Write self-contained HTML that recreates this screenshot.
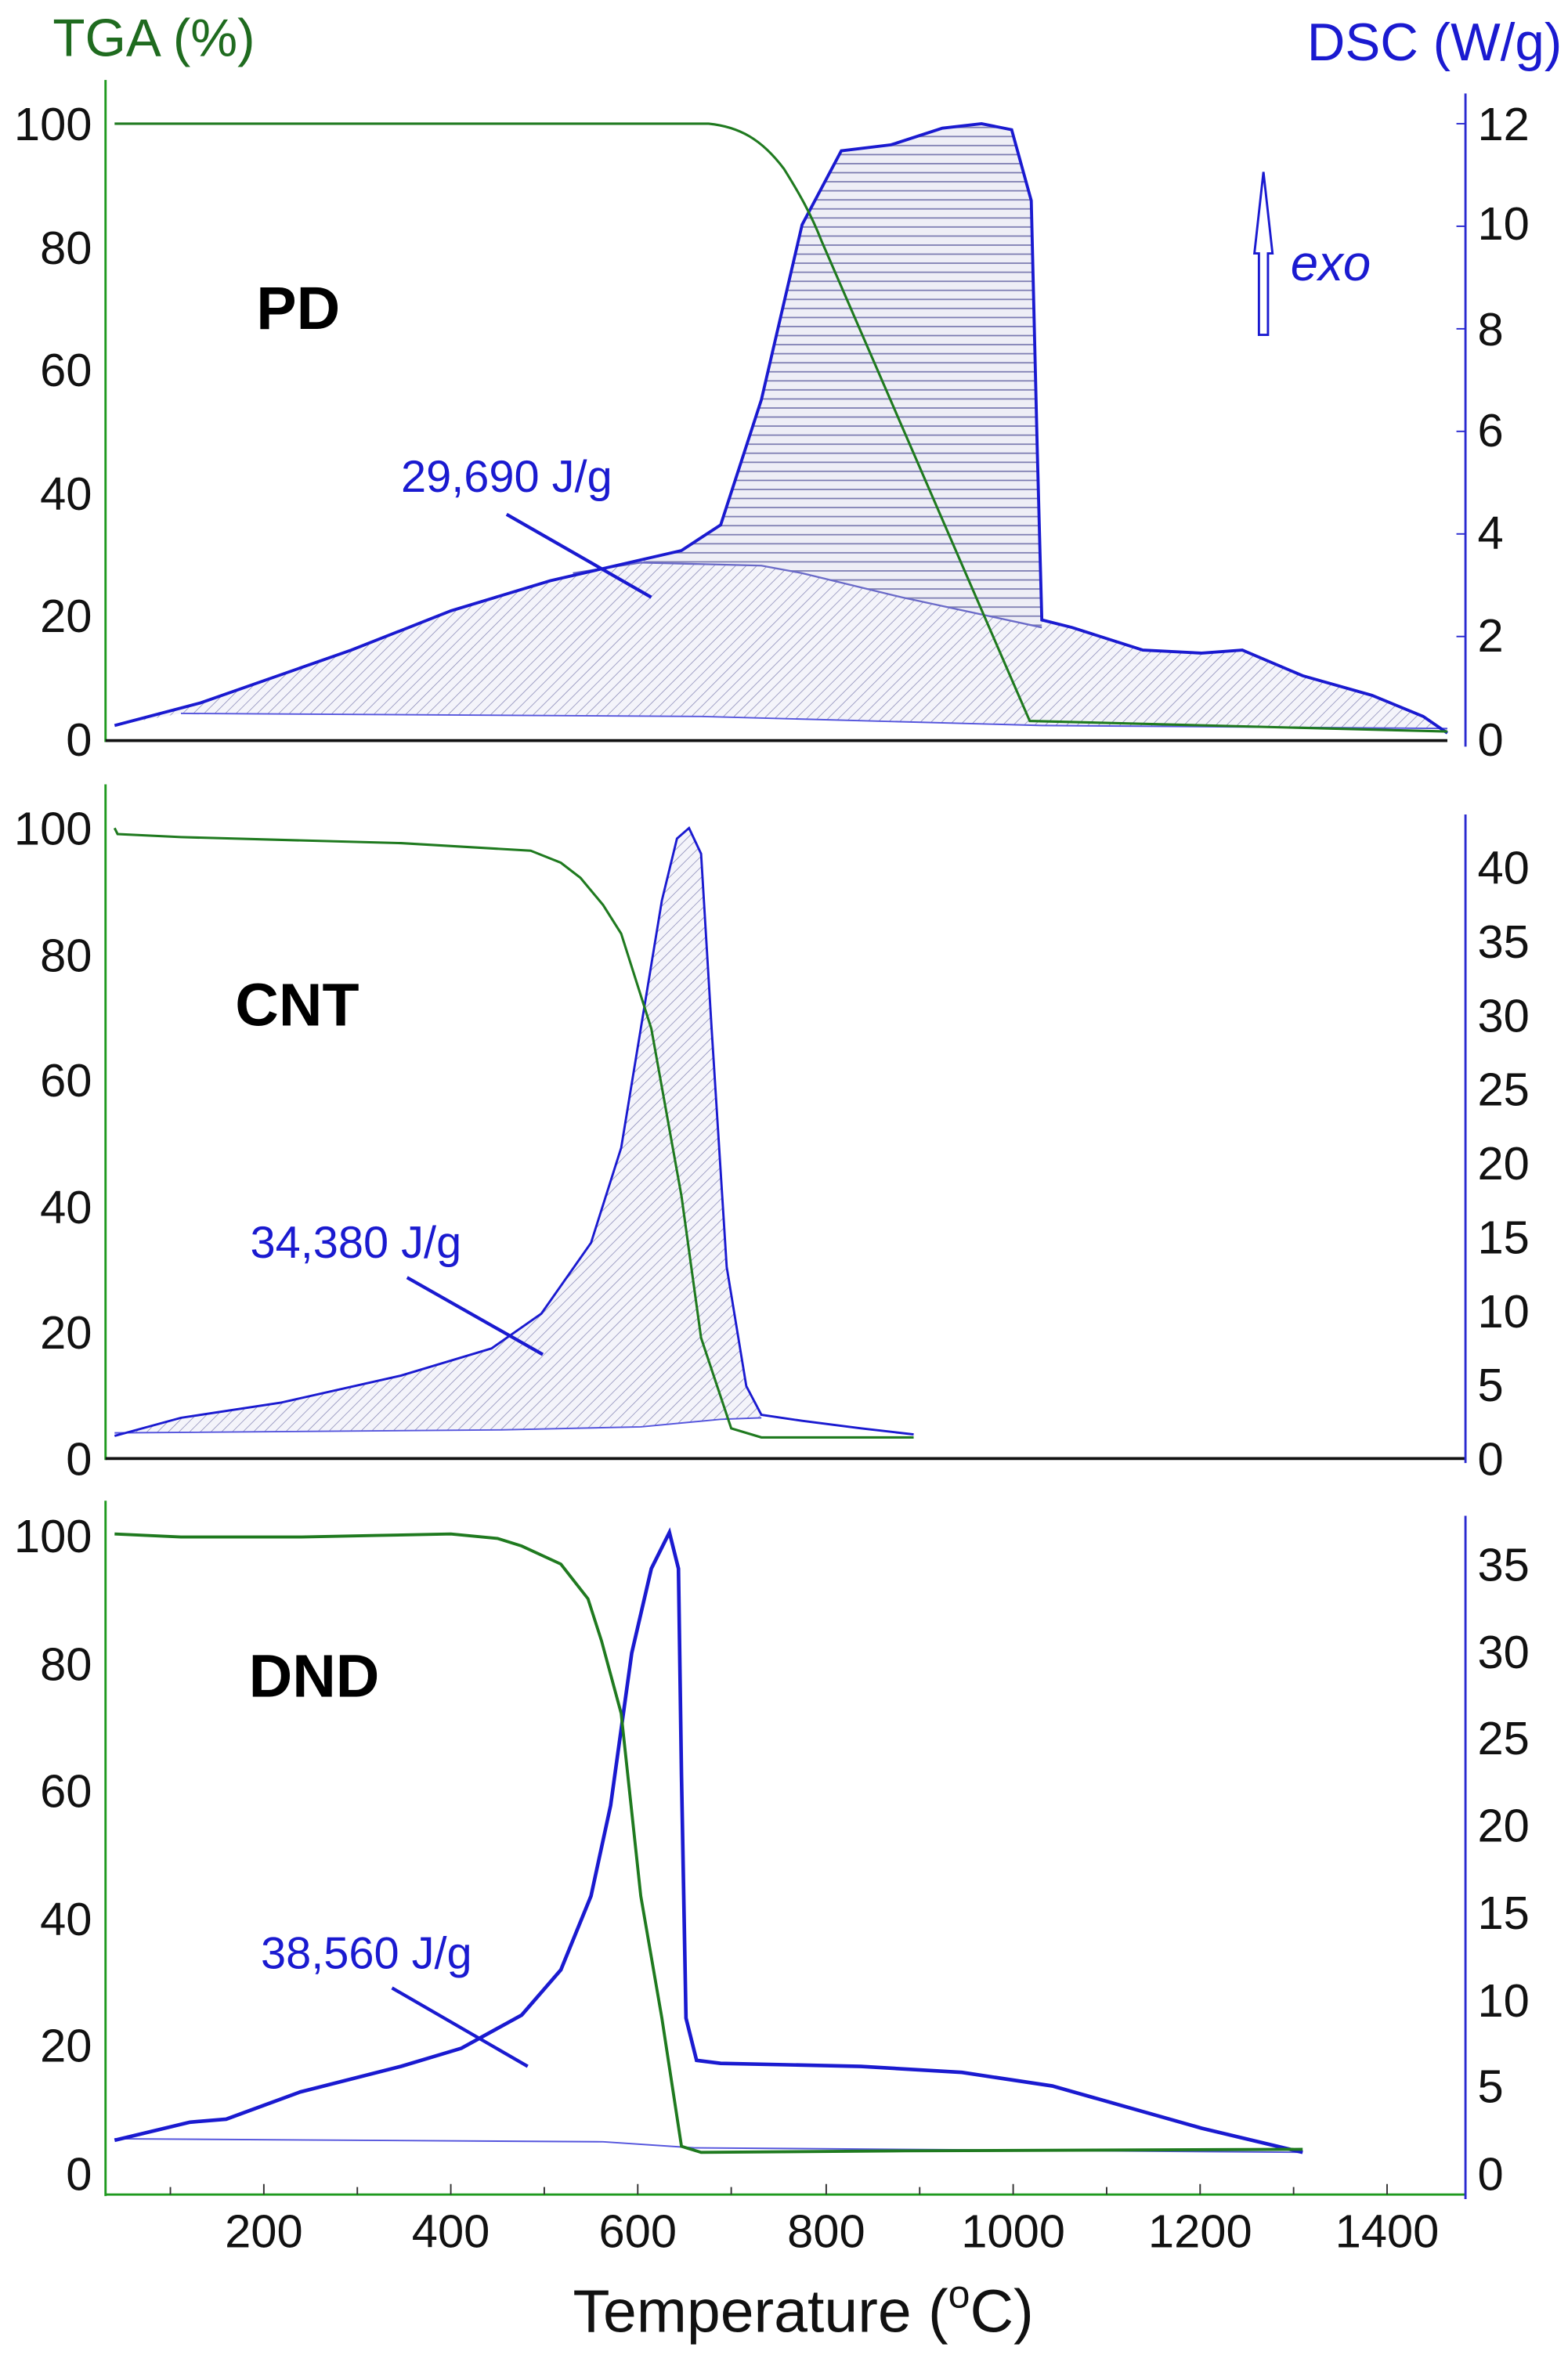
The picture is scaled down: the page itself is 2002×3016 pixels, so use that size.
<!DOCTYPE html>
<html><head><meta charset="utf-8"><style>html,body{margin:0;padding:0;background:#fff}svg{display:block}</style></head>
<body>
<svg width="2002" height="3016" viewBox="0 0 1040 1566" preserveAspectRatio="none" xmlns="http://www.w3.org/2000/svg" font-family="Liberation Sans, Arial, sans-serif">
<defs>
<pattern id="diag" patternUnits="userSpaceOnUse" width="5" height="5" patternTransform="rotate(45)">
<rect width="5" height="5" fill="#f4f4fa"/><line x1="0" y1="0" x2="0" y2="5" stroke="#8a8ab8" stroke-width="0.8"/></pattern>
<pattern id="horiz" patternUnits="userSpaceOnUse" width="6" height="6">
<rect width="6" height="6" fill="#eeeef6"/><line x1="0" y1="0.5" x2="6" y2="0.5" stroke="#7a7ab0" stroke-width="0.9"/></pattern>
</defs>

<text x="35" y="37" font-size="35" fill="#1f6b1f">TGA (%)</text>
<text x="1036" y="40" font-size="35" fill="#1a1ad0" text-anchor="end">DSC (W/g)</text>

<!-- ===== Panel 1 PD ===== -->
<g>
<path d="M76,481 L133,466 L233,431 L299,405 L365,385 L452,365 L478,348 L505,265 L532,149 L558,100 L591,96 L625,85 L651,82 L671,86 L684,133 L688,299 L691,411 L711,416 L758,431 L797,433 L824,431 L864,448 L910,461 L944,475 L960,486 L960,483 L691,481 L465,475 L120,473 Z" fill="url(#diag)"/>
<path d="M452,365 L478,348 L505,265 L532,149 L558,100 L591,96 L625,85 L651,82 L671,86 L684,133 L688,299 L691,411 L691,416 L598,396 L532,380 L505,375 L425,373 Z" fill="url(#horiz)"/>
<polyline points="120,473 465,475 691,481 960,483" fill="none" stroke="#5555dd" stroke-width="1"/>
<polyline points="380,380 425,373 505,375 532,380 598,396 691,416" fill="none" stroke="#6a6ac8" stroke-width="1.2"/>
<polyline points="76,481 133,466 233,431 299,405 365,385 452,365 478,348 505,265 532,149 558,100 591,96 625,85 651,82 671,86 684,133 688,299 691,411 711,416 758,431 797,433 824,431 864,448 910,461 944,475 960,486" fill="none" stroke="#1a1ad0" stroke-width="2"/>
<path d="M76,82 L470,82 C490,84 505,92 520,112 C530,128 538,142 545,160 L683,478 L960,485" fill="none" stroke="#1f7a1f" stroke-width="1.6"/>
<line x1="70" y1="53" x2="70" y2="492" stroke="#1f9a1f" stroke-width="1.5"/>
<line x1="70" y1="491" x2="960" y2="491" stroke="#111" stroke-width="2"/>
<line x1="972" y1="62" x2="972" y2="495" stroke="#2a2ad0" stroke-width="1.5"/>
<g font-size="31" fill="#111" text-anchor="end">
<text x="61" y="93">100</text><text x="61" y="175">80</text><text x="61" y="256">60</text><text x="61" y="338">40</text><text x="61" y="419">20</text><text x="61" y="501">0</text></g>
<g font-size="31" fill="#111">
<text x="980" y="93">12</text><text x="980" y="159">10</text><text x="980" y="229">8</text><text x="980" y="296">6</text><text x="980" y="364">4</text><text x="980" y="432">2</text><text x="980" y="501">0</text></g>
<g stroke="#2a2ad0" stroke-width="1"><line x1="972" y1="82" x2="966" y2="82"/><line x1="972" y1="150" x2="966" y2="150"/><line x1="972" y1="218" x2="966" y2="218"/><line x1="972" y1="286" x2="966" y2="286"/><line x1="972" y1="354" x2="966" y2="354"/><line x1="972" y1="422" x2="966" y2="422"/></g>
<text x="170" y="218" font-size="40" font-weight="bold" fill="#000">PD</text>
<text x="266" y="326" font-size="30" fill="#1a1ad0">29,690 J/g</text>
<line x1="336" y1="341" x2="432" y2="396" stroke="#1a1ad0" stroke-width="2.2"/>
<path d="M838,114 L844,168 L841,168 L841,222 L835,222 L835,168 L832,168 Z" fill="#fff" stroke="#1a1ad0" stroke-width="1.5"/>
<text x="856" y="186" font-size="33" font-style="italic" fill="#1a1ad0">exo</text>
</g>

<!-- ===== Panel 2 CNT ===== -->
<g>
<path d="M76,952 L120,940 L186,930 L266,912 L326,894 L359,871 L392,824 L412,761 L425,682 L439,597 L449,556 L457,549 L465,566 L472,682 L482,840 L495,919 L505,940 L478,941 L425,946 L332,948 L76,950 Z" fill="url(#diag)"/>
<polyline points="76,950 332,948 425,946 478,941 505,940" fill="none" stroke="#5555dd" stroke-width="1"/>
<polyline points="76,952 120,940 186,930 266,912 326,894 359,871 392,824 412,761 425,682 439,597 449,556 457,549 465,566 472,682 482,840 495,919 505,938 532,942 571,947 606,951" fill="none" stroke="#1a1ad0" stroke-width="1.5"/>
<polyline points="76,549 78,553 120,555 266,559 352,564 372,572 385,582 400,600 412,619 432,682 452,793 465,887 485,947 505,953 606,953" fill="none" stroke="#1f7a1f" stroke-width="1.6"/>
<line x1="70" y1="520" x2="70" y2="968" stroke="#1f9a1f" stroke-width="1.5"/>
<line x1="70" y1="967" x2="972" y2="967" stroke="#111" stroke-width="2"/>
<line x1="972" y1="540" x2="972" y2="970" stroke="#2a2ad0" stroke-width="1.5"/>
<g font-size="31" fill="#111" text-anchor="end">
<text x="61" y="560">100</text><text x="61" y="644">80</text><text x="61" y="727">60</text><text x="61" y="811">40</text><text x="61" y="894">20</text><text x="61" y="978">0</text></g>
<g font-size="31" fill="#111">
<text x="980" y="586">40</text><text x="980" y="635">35</text><text x="980" y="684">30</text><text x="980" y="733">25</text><text x="980" y="782">20</text><text x="980" y="831">15</text><text x="980" y="880">10</text><text x="980" y="929">5</text><text x="980" y="978">0</text></g>
<text x="156" y="680" font-size="40" font-weight="bold" fill="#000">CNT</text>
<text x="166" y="834" font-size="30" fill="#1a1ad0">34,380 J/g</text>
<line x1="270" y1="847" x2="360" y2="898" stroke="#1a1ad0" stroke-width="2.2"/>
</g>

<!-- ===== Panel 3 DND ===== -->
<g>
<polyline points="76,1418 400,1420 460,1424 864,1427" fill="none" stroke="#5555dd" stroke-width="1"/>
<polyline points="76,1419 126,1407 150,1405 199,1387 266,1370 306,1358 346,1336 372,1306 392,1257 405,1197 419,1096 432,1040 444,1016 450,1040 452,1177 455,1338 462,1366 478,1368 571,1370 638,1374 698,1383 797,1411 864,1427" fill="none" stroke="#1a1ad0" stroke-width="2.4"/>
<polyline points="76,1017 120,1019 200,1019 250,1018 299,1017 330,1020 346,1025 372,1037 390,1060 399,1088 412,1136 425,1257 439,1338 452,1423 465,1427 600,1426 864,1425" fill="none" stroke="#1f7a1f" stroke-width="2"/>
<line x1="70" y1="995" x2="70" y2="1456" stroke="#1f9a1f" stroke-width="1.5"/>
<line x1="70" y1="1455" x2="972" y2="1455" stroke="#1f9a1f" stroke-width="1.5"/>
<line x1="972" y1="1005" x2="972" y2="1458" stroke="#2a2ad0" stroke-width="1.5"/>
<g stroke="#333" stroke-width="1">
<line x1="113" y1="1455" x2="113" y2="1450"/><line x1="175" y1="1455" x2="175" y2="1448"/><line x1="237" y1="1455" x2="237" y2="1450"/><line x1="299" y1="1455" x2="299" y2="1448"/><line x1="361" y1="1455" x2="361" y2="1450"/><line x1="423" y1="1455" x2="423" y2="1448"/><line x1="485" y1="1455" x2="485" y2="1450"/><line x1="548" y1="1455" x2="548" y2="1448"/><line x1="610" y1="1455" x2="610" y2="1450"/><line x1="672" y1="1455" x2="672" y2="1448"/><line x1="734" y1="1455" x2="734" y2="1450"/><line x1="796" y1="1455" x2="796" y2="1448"/><line x1="858" y1="1455" x2="858" y2="1450"/><line x1="920" y1="1455" x2="920" y2="1448"/></g>
<g font-size="31" fill="#111" text-anchor="end">
<text x="61" y="1029">100</text><text x="61" y="1114">80</text><text x="61" y="1198">60</text><text x="61" y="1283">40</text><text x="61" y="1367">20</text><text x="61" y="1452">0</text></g>
<g font-size="31" fill="#111">
<text x="980" y="1048">35</text><text x="980" y="1106">30</text><text x="980" y="1163">25</text><text x="980" y="1221">20</text><text x="980" y="1279">15</text><text x="980" y="1337">10</text><text x="980" y="1394">5</text><text x="980" y="1452">0</text></g>
<g font-size="31" fill="#111" text-anchor="middle">
<text x="175" y="1490">200</text><text x="299" y="1490">400</text><text x="423" y="1490">600</text><text x="548" y="1490">800</text><text x="672" y="1490">1000</text><text x="796" y="1490">1200</text><text x="920" y="1490">1400</text></g>
<text x="165" y="1125" font-size="40" font-weight="bold" fill="#000">DND</text>
<text x="173" y="1305" font-size="30" fill="#1a1ad0">38,560 J/g</text>
<line x1="260" y1="1318" x2="350" y2="1370" stroke="#1a1ad0" stroke-width="2.2"/>
</g>

<text x="380" y="1546" font-size="40" fill="#111">Temperature (<tspan font-size="26" dy="-16">o</tspan><tspan dy="16">C)</tspan></text>
</svg>
</body></html>
